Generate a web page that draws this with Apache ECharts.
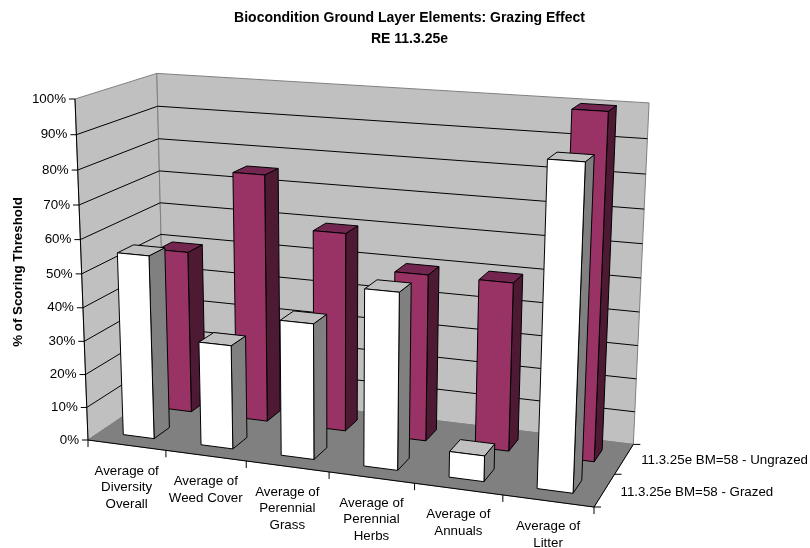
<!DOCTYPE html>
<html><head><meta charset="utf-8">
<style>html,body{margin:0;padding:0;background:#fff}#c{width:810px;height:548px}</style>
<script src="https://cdn.jsdelivr.net/npm/echarts@6/dist/echarts.min.js"></script>
</head><body><div id="c"></div>
<script>
const categories = ["Average of\nDiversity\nOverall","Average of\nWeed Cover","Average of\nPerennial\nGrass","Average of\nPerennial\nHerbs","Average of\nAnnuals","Average of\nLitter"];
const depthNames = ["11.3.25e BM=58 - Grazed","11.3.25e BM=58 - Ungrazed"];
const grazed = [55,31,40,51.5,7.5,91];
const ungrazed = [50,75.3,60,50,50,100];
const valueTicks = [0,10,20,30,40,50,60,70,80,90,100];
const titleText = "Biocondition Ground Layer Elements: Grazing Effect\nRE 11.3.25e";
const valueAxisName = "% of Scoring Threshold";

// view of the 3D box: screen positions of three edges from the near-left floor corner, plus perspective factors
const FLB=[88,440],FRB=[594,507],BLB=[165,388],FLT=[75,99];
const G=-0.09,K=0.088,C=-0.05;
function P(u,w,h){const D=1+G*u+K*w+C*h;
 const n=i=>FLB[i]+(FRB[i]*(1+G)-FLB[i])*u+(BLB[i]*(1+K)-FLB[i])*w+(FLT[i]*(1+C)-FLB[i])*h;
 return [n(0)/D,n(1)/D];}
function norm(params,pt){const s=params.coordSys;return [(pt[0]-s.x)/s.width,(s.y+s.height-pt[1])/s.height];}
const poly=(pts,fill,stroke,lw)=>({type:'polygon',shape:{points:pts},style:{fill:fill,stroke:stroke||null,lineWidth:lw||1,lineJoin:'round'}});
const line=(a,b,stroke,lw)=>({type:'line',shape:{x1:a[0],y1:a[1],x2:b[0],y2:b[1]},style:{stroke:stroke,lineWidth:lw||1}});
const txt=(x,y,t,align,va)=>({type:'text',style:{x:x,y:y,text:t,fill:'#000',font:'13.33px "Liberation Sans",Arial,sans-serif',align:align,verticalAlign:va,lineHeight:16.5}});

function renderFrame(params,api){
 return {type:'group',children:[
  poly([P(0,0,0),P(0,1,0),P(0,1,1),P(0,0,1)],'#C0C0C0','#808080'),
  poly([P(0,1,0),P(1,1,0),P(1,1,1),P(0,1,1)],'#C0C0C0','#808080'),
  poly([P(0,0,0),P(1,0,0),P(1,1,0),P(0,1,0)],'#808080','#808080'),
  line(P(0,0,0),P(0,0,1),'#000'),
  line(P(0,0,0),P(1,0,0),'#000'),
  line(P(1,0,0),P(1,1,0),'#000'),
  ...[0,0.5,1].map(w=>{const p=P(1,w,0);return line(p,[p[0]+7,p[1]],'#000');}),
  ...depthNames.map((n,i)=>{const p=P(1,0.25+i*0.5,0);return txt(p[0]+(i?17:16),p[1]+(i?1.5:2.5),n,'left','middle');})
 ]};
}
function renderValueTick(params,api){
 const h=norm(params,api.coord([0,api.value(1)]))[1];
 const a=P(0,0,h),b=P(0,1,h),c=P(1,1,h),kids=[];
 if(h>0.001&&h<0.999){kids.push(line(a,b,'#000'),line(b,c,'#000'));}
 kids.push(line(a,[a[0]-6,a[1]],'#000'));
 kids.push(txt(a[0]-9,a[1],api.value(1)+'%','right','middle'));
 return {type:'group',children:kids};
}
function renderCategory(params,api){
 const i=api.value(0),c=norm(params,api.coord([i,0]))[0],bw=api.size([1,0])[0]/params.coordSys.width;
 const kids=[];
 const t=P(c+bw/2,0,0);kids.push(line(t,[t[0],t[1]+7],'#000'));
 if(i===0){const t0=P(c-bw/2,0,0);kids.push(line(t0,[t0[0],t0[1]+7],'#000'));}
 const m=P(c,0,0);
 kids.push(txt(m[0],m[1]+17.5,categories[i],'center','top'));
 return {type:'group',children:kids};
}
function barRenderer(w0,w1,front,side,top){
 return function(params,api){
  const i=api.value(0),n=norm(params,api.coord([i,api.value(1)])),bw=api.size([1,0])[0]/params.coordSys.width;
  const u0=n[0]-bw*0.2,u1=n[0]+bw*0.2,h=n[1];
  return {type:'group',children:[
   poly([P(u1,w0,0),P(u1,w1,0),P(u1,w1,h),P(u1,w0,h)],side,'#000'),
   poly([P(u0,w0,h),P(u1,w0,h),P(u1,w1,h),P(u0,w1,h)],top,'#000'),
   poly([P(u0,w0,0),P(u1,w0,0),P(u1,w0,h),P(u0,w0,h)],front,'#000')
  ]};
 };
}
const toData=a=>a.map((v,i)=>[i,v]);
const base={type:'custom',coordinateSystem:'cartesian2d',silent:true,animation:false,encode:{x:0,y:1}};
const chart=echarts.init(document.getElementById('c'),null,{renderer:'canvas'});
chart.setOption({
 animation:false,backgroundColor:'#fff',
 title:{text:titleText,left:404.5,textAlign:'center',top:3,itemGap:0,
  textStyle:{fontFamily:'"Liberation Sans",Arial,sans-serif',fontSize:14,fontWeight:'bold',color:'#000',lineHeight:21}},
 grid:{left:0,right:0,top:0,bottom:0},
 xAxis:{type:'category',data:categories,show:false},
 yAxis:{type:'value',min:0,max:100,interval:10,show:false},
 graphic:[{type:'text',rotation:Math.PI/2,x:18,y:272,
  style:{text:valueAxisName,align:'center',verticalAlign:'middle',fill:'#000',font:'bold 13.33px "Liberation Sans",Arial,sans-serif'}}],
 series:[
  {...base,name:'frame',data:[[0,0]],renderItem:renderFrame,z:1},
  {...base,name:'ticks',data:valueTicks.map(v=>[0,v]),renderItem:renderValueTick,z:2},
  {...base,name:'cats',data:categories.map((c,i)=>[i,0]),renderItem:renderCategory,z:2},
  {...base,name:depthNames[1],data:toData(ungrazed),renderItem:barRenderer(0.65,0.85,'#993366','#4D1933','#732650'),z:3},
  {...base,name:depthNames[0],data:toData(grazed),renderItem:barRenderer(0.15,0.35,'#FFFFFF','#808080','#C0C0C0'),z:4}
 ]
});
</script></body></html>
